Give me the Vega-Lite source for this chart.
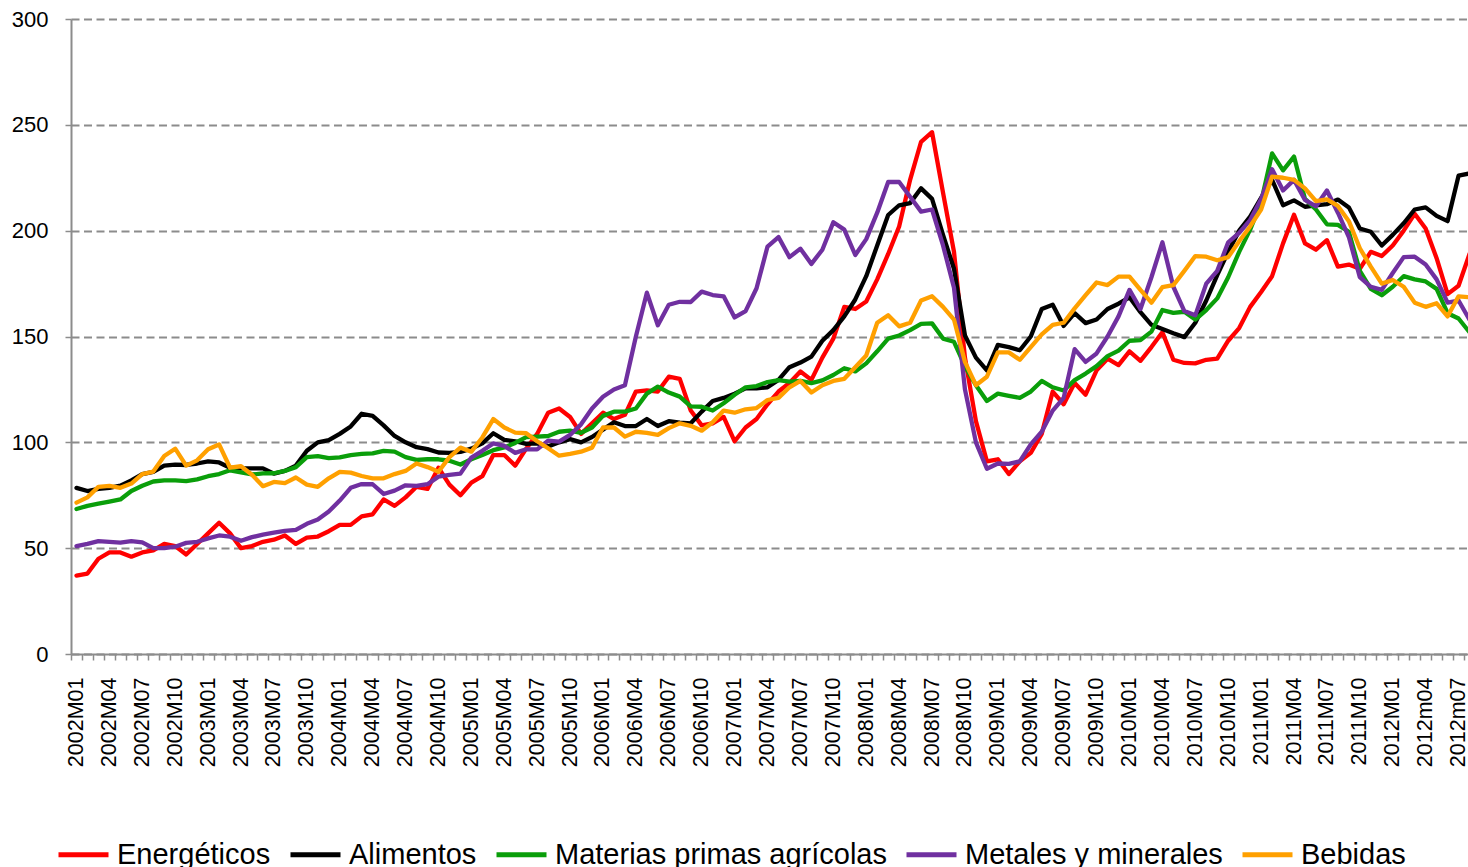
{
"$schema": "https://vega.github.io/schema/vega-lite/v6.json",
"width": 1397,
"height": 635,
"autosize": {"type": "none"},
"padding": {"left": 71, "top": 19, "right": 0, "bottom": 213},
"background": "white",
"config": {"view": {"stroke": null}, "font": "Liberation Sans"},
"data": {"values": [
{"mes":"2002M01","Energéticos":37,"Alimentos":78.5,"Materias primas agrícolas":68.5,"Metales y minerales":51,"Bebidas":71.5},
{"mes":"2002M02","Energéticos":38,"Alimentos":77,"Materias primas agrícolas":70,"Metales y minerales":52,"Bebidas":74},
{"mes":"2002M03","Energéticos":45,"Alimentos":78,"Materias primas agrícolas":71,"Metales y minerales":53.3,"Bebidas":79},
{"mes":"2002M04","Energéticos":48,"Alimentos":78.5,"Materias primas agrícolas":72,"Metales y minerales":53,"Bebidas":79.4},
{"mes":"2002M05","Energéticos":48,"Alimentos":79.5,"Materias primas agrícolas":73,"Metales y minerales":52.6,"Bebidas":78.5},
{"mes":"2002M06","Energéticos":46,"Alimentos":82,"Materias primas agrícolas":77,"Metales y minerales":53.3,"Bebidas":80.5},
{"mes":"2002M07","Energéticos":48,"Alimentos":85,"Materias primas agrícolas":79.5,"Metales y minerales":52.7,"Bebidas":85},
{"mes":"2002M08","Energéticos":49,"Alimentos":86,"Materias primas agrícolas":81.5,"Metales y minerales":50,"Bebidas":86.2},
{"mes":"2002M09","Energéticos":52,"Alimentos":89,"Materias primas agrícolas":82,"Metales y minerales":50,"Bebidas":93.5},
{"mes":"2002M10","Energéticos":51,"Alimentos":89.5,"Materias primas agrícolas":82,"Metales y minerales":50.7,"Bebidas":97},
{"mes":"2002M11","Energéticos":47,"Alimentos":89.3,"Materias primas agrícolas":81.7,"Metales y minerales":52.5,"Bebidas":89},
{"mes":"2002M12","Energéticos":52,"Alimentos":90,"Materias primas agrícolas":82.5,"Metales y minerales":53,"Bebidas":91.5},
{"mes":"2003M01","Energéticos":57,"Alimentos":91,"Materias primas agrícolas":84,"Metales y minerales":54.6,"Bebidas":96.7},
{"mes":"2003M02","Energéticos":62,"Alimentos":90.5,"Materias primas agrícolas":85,"Metales y minerales":56,"Bebidas":99},
{"mes":"2003M03","Energéticos":57,"Alimentos":88,"Materias primas agrícolas":86.8,"Metales y minerales":55.4,"Bebidas":88},
{"mes":"2003M04","Energéticos":50,"Alimentos":87.7,"Materias primas agrícolas":85.8,"Metales y minerales":53.5,"Bebidas":88.7},
{"mes":"2003M05","Energéticos":51,"Alimentos":87.7,"Materias primas agrícolas":84.8,"Metales y minerales":55.2,"Bebidas":84.7},
{"mes":"2003M06","Energéticos":53,"Alimentos":87.7,"Materias primas agrícolas":85.3,"Metales y minerales":56.4,"Bebidas":79.3},
{"mes":"2003M07","Energéticos":54,"Alimentos":85.2,"Materias primas agrícolas":85.4,"Metales y minerales":57.3,"Bebidas":81.3},
{"mes":"2003M08","Energéticos":56,"Alimentos":86.5,"Materias primas agrícolas":86.5,"Metales y minerales":58.2,"Bebidas":80.7},
{"mes":"2003M09","Energéticos":52,"Alimentos":89,"Materias primas agrícolas":88.3,"Metales y minerales":58.6,"Bebidas":83.4},
{"mes":"2003M10","Energéticos":55,"Alimentos":96,"Materias primas agrícolas":93,"Metales y minerales":61.5,"Bebidas":80},
{"mes":"2003M11","Energéticos":55.5,"Alimentos":100,"Materias primas agrícolas":93.5,"Metales y minerales":63.5,"Bebidas":79},
{"mes":"2003M12","Energéticos":58,"Alimentos":101,"Materias primas agrícolas":92.5,"Metales y minerales":67.3,"Bebidas":83},
{"mes":"2004M01","Energéticos":61,"Alimentos":104,"Materias primas agrícolas":92.9,"Metales y minerales":72.5,"Bebidas":86},
{"mes":"2004M02","Energéticos":61,"Alimentos":107.5,"Materias primas agrícolas":94,"Metales y minerales":78.5,"Bebidas":85.7},
{"mes":"2004M03","Energéticos":65,"Alimentos":113.5,"Materias primas agrícolas":94.5,"Metales y minerales":80.3,"Bebidas":84.1},
{"mes":"2004M04","Energéticos":66,"Alimentos":112.5,"Materias primas agrícolas":94.8,"Metales y minerales":80.2,"Bebidas":83},
{"mes":"2004M05","Energéticos":73,"Alimentos":108,"Materias primas agrícolas":96,"Metales y minerales":75.6,"Bebidas":83},
{"mes":"2004M06","Energéticos":70,"Alimentos":103,"Materias primas agrícolas":95.6,"Metales y minerales":77.2,"Bebidas":85},
{"mes":"2004M07","Energéticos":74,"Alimentos":100,"Materias primas agrícolas":93,"Metales y minerales":79.7,"Bebidas":86.5},
{"mes":"2004M08","Energéticos":79,"Alimentos":97.7,"Materias primas agrícolas":91.7,"Metales y minerales":79.4,"Bebidas":90},
{"mes":"2004M09","Energéticos":78,"Alimentos":96.8,"Materias primas agrícolas":92,"Metales y minerales":80.2,"Bebidas":88.3},
{"mes":"2004M10","Energéticos":88,"Alimentos":95.2,"Materias primas agrícolas":92,"Metales y minerales":83.8,"Bebidas":86.1},
{"mes":"2004M11","Energéticos":80,"Alimentos":95,"Materias primas agrícolas":91.3,"Metales y minerales":84.6,"Bebidas":93},
{"mes":"2004M12","Energéticos":75,"Alimentos":95.5,"Materias primas agrícolas":89.5,"Metales y minerales":85.2,"Bebidas":97.5},
{"mes":"2005M01","Energéticos":81,"Alimentos":97,"Materias primas agrícolas":92,"Metales y minerales":92.8,"Bebidas":95.6},
{"mes":"2005M02","Energéticos":84,"Alimentos":99.5,"Materias primas agrícolas":94,"Metales y minerales":96,"Bebidas":102.3},
{"mes":"2005M03","Energéticos":94,"Alimentos":104.3,"Materias primas agrícolas":96.3,"Metales y minerales":99.5,"Bebidas":111},
{"mes":"2005M04","Energéticos":94,"Alimentos":101.2,"Materias primas agrícolas":97.6,"Metales y minerales":98.3,"Bebidas":107},
{"mes":"2005M05","Energéticos":89,"Alimentos":100.5,"Materias primas agrícolas":99.7,"Metales y minerales":95,"Bebidas":104.6},
{"mes":"2005M06","Energéticos":97,"Alimentos":99.3,"Materias primas agrícolas":102.5,"Metales y minerales":96.7,"Bebidas":104.3},
{"mes":"2005M07","Energéticos":104,"Alimentos":99.5,"Materias primas agrícolas":102.7,"Metales y minerales":96.7,"Bebidas":100.5},
{"mes":"2005M08","Energéticos":114,"Alimentos":98,"Materias primas agrícolas":103,"Metales y minerales":100.8,"Bebidas":97.2},
{"mes":"2005M09","Energéticos":116,"Alimentos":100,"Materias primas agrícolas":105,"Metales y minerales":100.3,"Bebidas":93.7},
{"mes":"2005M10","Energéticos":112,"Alimentos":101.5,"Materias primas agrícolas":105.5,"Metales y minerales":103.5,"Bebidas":94.5},
{"mes":"2005M11","Energéticos":104,"Alimentos":100,"Materias primas agrícolas":104.5,"Metales y minerales":108.5,"Bebidas":95.6},
{"mes":"2005M12","Energéticos":109,"Alimentos":102.5,"Materias primas agrícolas":107,"Metales y minerales":116,"Bebidas":97.5},
{"mes":"2006M01","Energéticos":114,"Alimentos":106,"Materias primas agrícolas":112.5,"Metales y minerales":121.5,"Bebidas":107},
{"mes":"2006M02","Energéticos":111,"Alimentos":109.5,"Materias primas agrícolas":114.5,"Metales y minerales":125,"Bebidas":107},
{"mes":"2006M03","Energéticos":113,"Alimentos":107.7,"Materias primas agrícolas":114.5,"Metales y minerales":127,"Bebidas":102.7},
{"mes":"2006M04","Energéticos":124,"Alimentos":107.7,"Materias primas agrícolas":116,"Metales y minerales":150,"Bebidas":105},
{"mes":"2006M05","Energéticos":124.5,"Alimentos":111,"Materias primas agrícolas":123,"Metales y minerales":170.7,"Bebidas":104.5},
{"mes":"2006M06","Energéticos":124,"Alimentos":107.7,"Materias primas agrícolas":126.3,"Metales y minerales":155.3,"Bebidas":103.5},
{"mes":"2006M07","Energéticos":131,"Alimentos":110,"Materias primas agrícolas":123.5,"Metales y minerales":165,"Bebidas":106.7},
{"mes":"2006M08","Energéticos":130,"Alimentos":109.3,"Materias primas agrícolas":121.6,"Metales y minerales":166.4,"Bebidas":109},
{"mes":"2006M09","Energéticos":115,"Alimentos":109,"Materias primas agrícolas":117,"Metales y minerales":166.3,"Bebidas":107.8},
{"mes":"2006M10","Energéticos":108,"Alimentos":114.5,"Materias primas agrícolas":116.8,"Metales y minerales":171.2,"Bebidas":105.5},
{"mes":"2006M11","Energéticos":109,"Alimentos":119.5,"Materias primas agrícolas":115,"Metales y minerales":169.6,"Bebidas":109.5},
{"mes":"2006M12","Energéticos":112,"Alimentos":121,"Materias primas agrícolas":118.5,"Metales y minerales":169,"Bebidas":115},
{"mes":"2007M01","Energéticos":100.5,"Alimentos":123,"Materias primas agrícolas":122.5,"Metales y minerales":159,"Bebidas":114},
{"mes":"2007M02","Energéticos":107,"Alimentos":125.5,"Materias primas agrícolas":126,"Metales y minerales":162,"Bebidas":115.6},
{"mes":"2007M03","Energéticos":111,"Alimentos":125.5,"Materias primas agrícolas":126.6,"Metales y minerales":172.8,"Bebidas":116.2},
{"mes":"2007M04","Energéticos":118,"Alimentos":126,"Materias primas agrícolas":128.5,"Metales y minerales":192.5,"Bebidas":120},
{"mes":"2007M05","Energéticos":124,"Alimentos":129.5,"Materias primas agrícolas":129.4,"Metales y minerales":197,"Bebidas":121},
{"mes":"2007M06","Energéticos":128,"Alimentos":135.5,"Materias primas agrícolas":128.7,"Metales y minerales":187.5,"Bebidas":126},
{"mes":"2007M07","Energéticos":133.5,"Alimentos":137.7,"Materias primas agrícolas":129,"Metales y minerales":191.5,"Bebidas":129},
{"mes":"2007M08","Energéticos":129.5,"Alimentos":140.5,"Materias primas agrícolas":128,"Metales y minerales":184.3,"Bebidas":123.5},
{"mes":"2007M09","Energéticos":140,"Alimentos":148,"Materias primas agrícolas":129.3,"Metales y minerales":191,"Bebidas":127},
{"mes":"2007M10","Energéticos":149,"Alimentos":153,"Materias primas agrícolas":131.8,"Metales y minerales":204,"Bebidas":129},
{"mes":"2007M11","Energéticos":164,"Alimentos":159.5,"Materias primas agrícolas":135,"Metales y minerales":200.5,"Bebidas":130},
{"mes":"2007M12","Energéticos":163,"Alimentos":167.5,"Materias primas agrícolas":133.5,"Metales y minerales":188.5,"Bebidas":135.5},
{"mes":"2008M01","Energéticos":166.5,"Alimentos":178.5,"Materias primas agrícolas":137.3,"Metales y minerales":196,"Bebidas":141},
{"mes":"2008M02","Energéticos":177,"Alimentos":193,"Materias primas agrícolas":143,"Metales y minerales":208.5,"Bebidas":156.5},
{"mes":"2008M03","Energéticos":189,"Alimentos":207.4,"Materias primas agrícolas":149,"Metales y minerales":223,"Bebidas":160},
{"mes":"2008M04","Energéticos":202,"Alimentos":212,"Materias primas agrícolas":150.5,"Metales y minerales":223,"Bebidas":154.8},
{"mes":"2008M05","Energéticos":224,"Alimentos":213,"Materias primas agrícolas":153,"Metales y minerales":216,"Bebidas":156.5},
{"mes":"2008M06","Energéticos":242,"Alimentos":220,"Materias primas agrícolas":156,"Metales y minerales":209,"Bebidas":167},
{"mes":"2008M07","Energéticos":246.5,"Alimentos":215,"Materias primas agrícolas":156.2,"Metales y minerales":210,"Bebidas":169},
{"mes":"2008M08","Energéticos":218,"Alimentos":198,"Materias primas agrícolas":149,"Metales y minerales":193,"Bebidas":164},
{"mes":"2008M09","Energéticos":190,"Alimentos":182,"Materias primas agrícolas":147.5,"Metales y minerales":173,"Bebidas":158},
{"mes":"2008M10","Energéticos":140,"Alimentos":150.5,"Materias primas agrícolas":136,"Metales y minerales":125,"Bebidas":138},
{"mes":"2008M11","Energéticos":110,"Alimentos":140,"Materias primas agrícolas":127,"Metales y minerales":100,"Bebidas":127},
{"mes":"2008M12","Energéticos":91,"Alimentos":134,"Materias primas agrícolas":119.5,"Metales y minerales":87.5,"Bebidas":131},
{"mes":"2009M01","Energéticos":92,"Alimentos":146,"Materias primas agrícolas":123,"Metales y minerales":90,"Bebidas":142.5},
{"mes":"2009M02","Energéticos":85,"Alimentos":145,"Materias primas agrícolas":122,"Metales y minerales":89.8,"Bebidas":142.5},
{"mes":"2009M03","Energéticos":91,"Alimentos":143.5,"Materias primas agrícolas":121,"Metales y minerales":91,"Bebidas":139},
{"mes":"2009M04","Energéticos":95,"Alimentos":150,"Materias primas agrícolas":124,"Metales y minerales":99,"Bebidas":145},
{"mes":"2009M05","Energéticos":104,"Alimentos":163,"Materias primas agrícolas":129,"Metales y minerales":105,"Bebidas":151},
{"mes":"2009M06","Energéticos":124,"Alimentos":165,"Materias primas agrícolas":126,"Metales y minerales":115,"Bebidas":155.5},
{"mes":"2009M07","Energéticos":118,"Alimentos":155,"Materias primas agrícolas":124.5,"Metales y minerales":121,"Bebidas":156.5},
{"mes":"2009M08","Energéticos":128,"Alimentos":161,"Materias primas agrícolas":129.4,"Metales y minerales":144,"Bebidas":163.3},
{"mes":"2009M09","Energéticos":122.5,"Alimentos":156.3,"Materias primas agrícolas":132.5,"Metales y minerales":138,"Bebidas":169.5},
{"mes":"2009M10","Energéticos":134,"Alimentos":158,"Materias primas agrícolas":136,"Metales y minerales":142,"Bebidas":175.5},
{"mes":"2009M11","Energéticos":139.5,"Alimentos":163,"Materias primas agrícolas":140.7,"Metales y minerales":150,"Bebidas":174.3},
{"mes":"2009M12","Energéticos":136.5,"Alimentos":165.5,"Materias primas agrícolas":143.3,"Metales y minerales":159.5,"Bebidas":178.3},
{"mes":"2010M01","Energéticos":143,"Alimentos":168.5,"Materias primas agrícolas":148,"Metales y minerales":172,"Bebidas":178.3},
{"mes":"2010M02","Energéticos":138.5,"Alimentos":161.5,"Materias primas agrícolas":148.3,"Metales y minerales":163,"Bebidas":172},
{"mes":"2010M03","Energéticos":145,"Alimentos":155.5,"Materias primas agrícolas":152.3,"Metales y minerales":178,"Bebidas":166},
{"mes":"2010M04","Energéticos":152,"Alimentos":153.5,"Materias primas agrícolas":162.5,"Metales y minerales":194.5,"Bebidas":173.3},
{"mes":"2010M05","Energéticos":139,"Alimentos":151.5,"Materias primas agrícolas":161.2,"Metales y minerales":173.5,"Bebidas":174.3},
{"mes":"2010M06","Energéticos":137.5,"Alimentos":149.7,"Materias primas agrícolas":161.7,"Metales y minerales":162,"Bebidas":181},
{"mes":"2010M07","Energéticos":137.3,"Alimentos":156.5,"Materias primas agrícolas":158,"Metales y minerales":160,"Bebidas":188},
{"mes":"2010M08","Energéticos":139,"Alimentos":167,"Materias primas agrícolas":162.5,"Metales y minerales":175,"Bebidas":187.7},
{"mes":"2010M09","Energéticos":139.5,"Alimentos":179,"Materias primas agrícolas":168,"Metales y minerales":181,"Bebidas":186},
{"mes":"2010M10","Energéticos":148,"Alimentos":190,"Materias primas agrícolas":178,"Metales y minerales":194.5,"Bebidas":187.5},
{"mes":"2010M11","Energéticos":154,"Alimentos":200,"Materias primas agrícolas":190,"Metales y minerales":199,"Bebidas":195},
{"mes":"2010M12","Energéticos":164,"Alimentos":206.6,"Materias primas agrícolas":200.5,"Metales y minerales":205,"Bebidas":202},
{"mes":"2011M01","Energéticos":171,"Alimentos":215.5,"Materias primas agrícolas":213.5,"Metales y minerales":215,"Bebidas":210},
{"mes":"2011M02","Energéticos":178.5,"Alimentos":224,"Materias primas agrícolas":236.5,"Metales y minerales":229,"Bebidas":225.5},
{"mes":"2011M03","Energéticos":194,"Alimentos":212,"Materias primas agrícolas":228.5,"Metales y minerales":219,"Bebidas":225},
{"mes":"2011M04","Energéticos":207.5,"Alimentos":214.3,"Materias primas agrícolas":235,"Metales y minerales":224,"Bebidas":224},
{"mes":"2011M05","Energéticos":194,"Alimentos":211.3,"Materias primas agrícolas":215,"Metales y minerales":214.5,"Bebidas":220},
{"mes":"2011M06","Energéticos":191,"Alimentos":212,"Materias primas agrícolas":210,"Metales y minerales":211.5,"Bebidas":214},
{"mes":"2011M07","Energéticos":195.5,"Alimentos":212.5,"Materias primas agrícolas":203,"Metales y minerales":219,"Bebidas":214.8},
{"mes":"2011M08","Energéticos":183,"Alimentos":214.7,"Materias primas agrícolas":202.7,"Metales y minerales":208.5,"Bebidas":211.7},
{"mes":"2011M09","Energéticos":184,"Alimentos":211,"Materias primas agrícolas":199.5,"Metales y minerales":197,"Bebidas":204.5},
{"mes":"2011M10","Energéticos":182,"Alimentos":201,"Materias primas agrícolas":181,"Metales y minerales":178,"Bebidas":191.7},
{"mes":"2011M11","Energéticos":190,"Alimentos":199.5,"Materias primas agrícolas":172.5,"Metales y minerales":173.5,"Bebidas":183},
{"mes":"2011M12","Energéticos":188,"Alimentos":193,"Materias primas agrícolas":169.5,"Metales y minerales":172,"Bebidas":175},
{"mes":"2012M01","Energéticos":193,"Alimentos":198,"Materias primas agrícolas":173.5,"Metales y minerales":180,"Bebidas":176.7},
{"mes":"2012M02","Energéticos":200,"Alimentos":203.5,"Materias primas agrícolas":178.5,"Metales y minerales":187.5,"Bebidas":173.5},
{"mes":"2012M03","Energéticos":208,"Alimentos":210,"Materias primas agrícolas":177,"Metales y minerales":187.7,"Bebidas":166},
{"mes":"2012m04","Energéticos":201,"Alimentos":211,"Materias primas agrícolas":176,"Metales y minerales":184,"Bebidas":164},
{"mes":"2012m05","Energéticos":187,"Alimentos":207,"Materias primas agrícolas":172.5,"Metales y minerales":177,"Bebidas":165.7},
{"mes":"2012m06","Energéticos":170,"Alimentos":204.5,"Materias primas agrícolas":161,"Metales y minerales":166,"Bebidas":159.5},
{"mes":"2012m07","Energéticos":174,"Alimentos":226,"Materias primas agrícolas":158.5,"Metales y minerales":167,"Bebidas":169},
{"mes":"2012m08","Energéticos":189,"Alimentos":227,"Materias primas agrícolas":152,"Metales y minerales":158,"Bebidas":168.5}
]},
"transform": [{"fold": ["Energéticos", "Alimentos", "Materias primas agrícolas", "Metales y minerales", "Bebidas"], "as": ["serie", "valor"]}],
"mark": {"type": "line", "strokeWidth": 4.3, "strokeJoin": "round", "strokeCap": "round"},
"encoding": {
  "x": {"field": "mes", "type": "ordinal", "sort": null, "bandPosition": 0.5,
    "scale": {"type": "band", "paddingInner": 0, "paddingOuter": 0, "range": [0, 1404]},
    "axis": {"title": null, "tickBand": "extent", "labelAngle": -90, "labelOverlap": false,
      "labelExpr": "indexof(['01','04','07','10'], slice(datum.label, 5)) >= 0 ? datum.label : ''",
      "labelFont": "Liberation Sans", "labelFontSize": 21.5, "labelColor": "black", "labelPadding": 17,
      "tickSize": 6, "tickColor": "#8c8c8c", "tickWidth": 1.5, "domainColor": "#8c8c8c", "domainWidth": 2, "grid": false}},
  "y": {"field": "valor", "type": "quantitative",
    "scale": {"domain": [0, 300], "nice": false},
    "axis": {"title": null, "values": [0, 50, 100, 150, 200, 250, 300], "grid": true, "gridDash": [8, 4.5], "gridColor": "#8c8c8c", "gridWidth": 1.8,
      "labelFont": "Liberation Sans", "labelFontSize": 22, "labelColor": "black", "labelPadding": 17,
      "tickSize": 6, "tickColor": "#8c8c8c", "tickWidth": 1.5, "domainColor": "#8c8c8c", "domainWidth": 2}},
  "color": {"field": "serie", "type": "nominal", "sort": ["Energéticos", "Alimentos", "Materias primas agrícolas", "Metales y minerales", "Bebidas"],
    "scale": {"domain": ["Energéticos", "Alimentos", "Materias primas agrícolas", "Metales y minerales", "Bebidas"],
      "range": ["#ff0000", "#000000", "#0a9e0a", "#7030a0", "#ffa000"]},
    "legend": {"orient": "none", "legendX": -15, "legendY": 808, "direction": "horizontal", "title": null,
      "symbolType": "stroke", "symbolStrokeWidth": 5, "symbolSize": 2500,
      "labelFont": "Liberation Sans", "labelFontSize": 29, "labelColor": "black", "labelOffset": 6, "labelLimit": 1000,
      "columnPadding": 9, "padding": 0}}
}
}
